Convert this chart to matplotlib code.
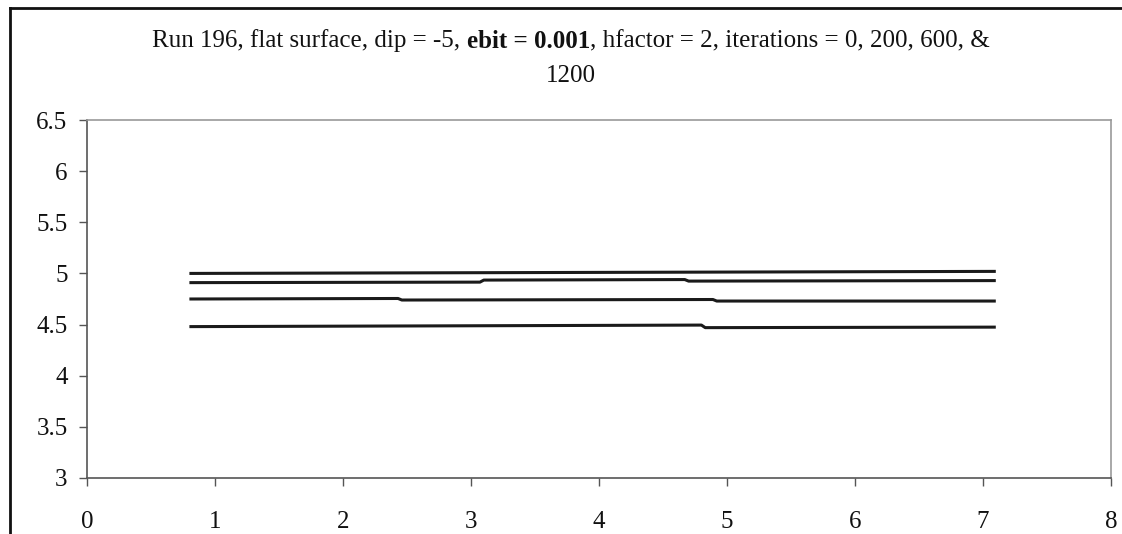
import matplotlib
matplotlib.use("Agg")
import matplotlib.pyplot as plt
from matplotlib.lines import Line2D

# Surface profiles after 0, 200, 600 and 1200 iterations
x_iter0 = [0.8, 7.1]
y_iter0 = [5.00, 5.02]

x_iter200 = [0.8, 3.07, 3.10, 4.67, 4.70, 7.1]
y_iter200 = [4.91, 4.915, 4.935, 4.94, 4.925, 4.93]

x_iter600 = [0.8, 2.43, 2.46, 4.89, 4.92, 7.1]
y_iter600 = [4.75, 4.755, 4.74, 4.745, 4.73, 4.73]

x_iter1200 = [0.8, 4.80, 4.83, 7.1]
y_iter1200 = [4.48, 4.495, 4.47, 4.475]

series = [(x_iter0, y_iter0), (x_iter200, y_iter200),
          (x_iter600, y_iter600), (x_iter1200, y_iter1200)]

x_ticks = [0, 1, 2, 3, 4, 5, 6, 7, 8]
y_ticks = [3, 3.5, 4, 4.5, 5, 5.5, 6, 6.5]
y_tick_labels = ["3", "3.5", "4", "4.5", "5", "5.5", "6", "6.5"]

plt.rcParams["font.family"] = ["Liberation Serif", "DejaVu Serif"]

W, H = 1122, 534
fig = plt.figure(figsize=(W / 100, H / 100), dpi=100)
ax = fig.add_axes([87 / W, (H - 478) / H, 1024 / W, 358 / H])

for xs, ys in series:
    ax.plot(xs, ys, color="#1a1a1a", linewidth=2.2, solid_capstyle="butt")

ax.set_xlim(0, 8)
ax.set_ylim(3, 6.5)
ax.set_xticks(x_ticks)
ax.set_yticks(y_ticks)
ax.set_yticklabels(y_tick_labels)
ax.tick_params(axis="both", direction="out", length=6, width=1.0,
               color="#555555", labelsize=18, labelcolor="#111111")
ax.tick_params(axis="x", pad=18)
ax.tick_params(axis="y", pad=8)

for side in ("left", "bottom"):
    ax.spines[side].set_color("#555555")
    ax.spines[side].set_linewidth(1.2)
for side in ("top", "right"):
    ax.spines[side].set_color("#999999")
    ax.spines[side].set_linewidth(1.2)

# Title with a bold run in the middle, laid out piece by piece
title_y = 1 - 41 / H
title_cx = 571
parts = [("Run 196, flat surface, dip = -5, ", "normal"),
         ("ebit = 0.001", "bold"),
         (", hfactor = 2, iterations = 0, 200, 600, &", "normal")]
renderer = fig.canvas.get_renderer()
texts = []
for s, w in parts:
    t = fig.text(0, title_y, s, fontsize=18, fontweight=w,
                 ha="left", va="center", color="#111111")
    texts.append(t)
widths = [t.get_window_extent(renderer).width for t in texts]
total = sum(widths)
xpos = title_cx - total / 2
for t, wdt in zip(texts, widths):
    t.set_x(xpos / W)
    xpos += wdt
fig.text(title_cx / W, 1 - 76 / H, "1200", fontsize=18, ha="center",
         va="center", color="#111111")

# Outer frame: top rule and left rule
fig.add_artist(Line2D([10 / W, 1.0], [1 - 8 / H, 1 - 8 / H],
                      transform=fig.transFigure, color="#111111", linewidth=2.0))
fig.add_artist(Line2D([10 / W, 10 / W], [0.0, 1 - 8 / H],
                      transform=fig.transFigure, color="#111111", linewidth=2.0))

fig.savefig("out.png", dpi=100)
